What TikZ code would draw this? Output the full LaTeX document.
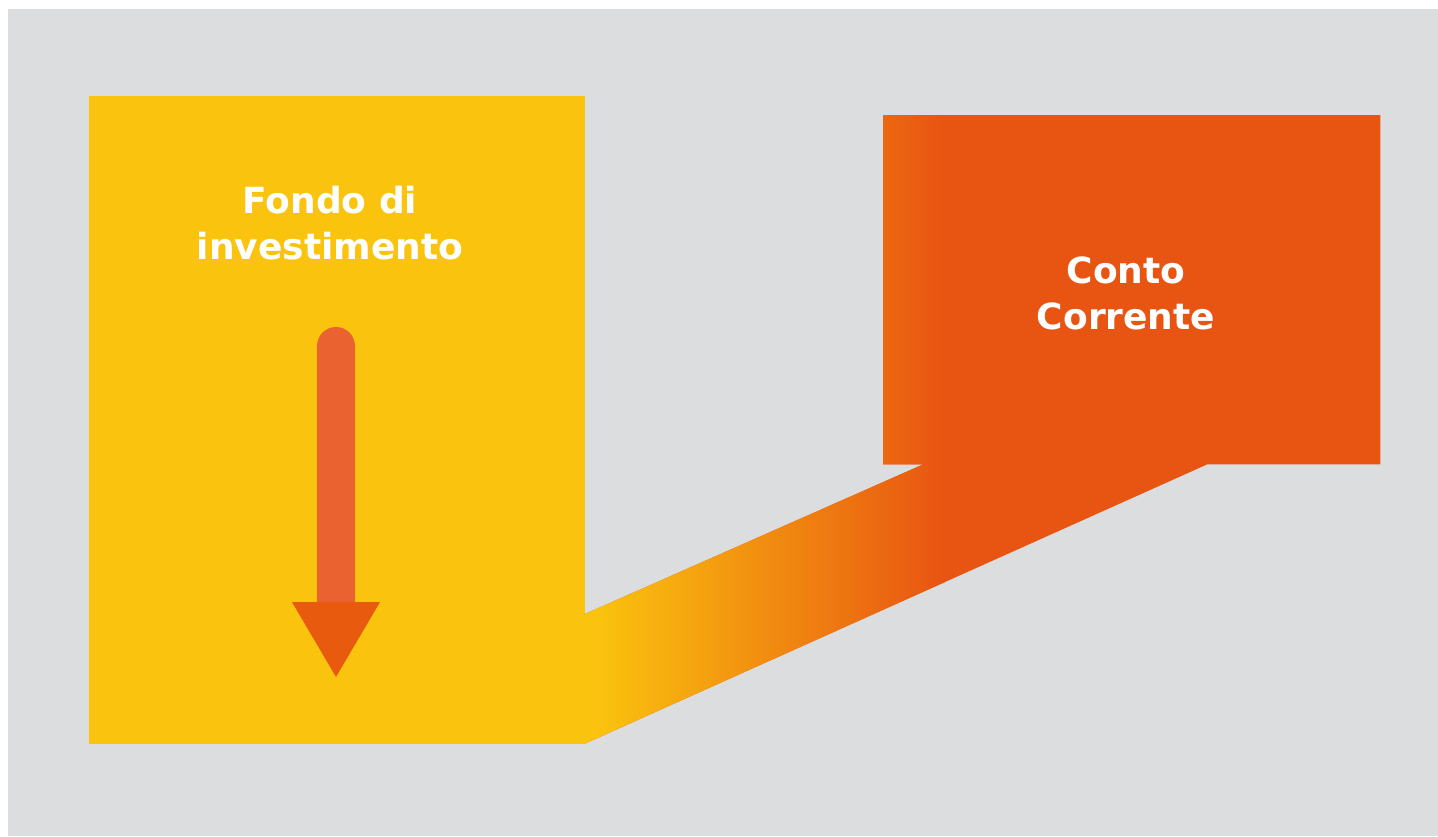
\documentclass[tikz,border=0pt]{standalone}
\usepackage{fontspec}
\setmainfont{DejaVu Sans}
\usetikzlibrary{calc}
\definecolor{bggrey}{HTML}{DCDDDF}
\definecolor{fondoyellow}{HTML}{FAC30E}
\definecolor{contoorange}{HTML}{E85412}
\definecolor{shaftorange}{HTML}{EA6230}
\definecolor{headorange}{HTML}{E85A0E}

\begin{document}
\begin{tikzpicture}[x=1pt,y=-1pt,
    box/.style={draw=none,inner sep=0pt,anchor=north west},
    boxtext/.style={text=white,font=\bfseries\fontsize{36}{46}\selectfont,align=center,inner sep=0pt}]
    \useasboundingbox (0,0) rectangle (1438,836);
    % sfondo grigio
    \fill[bggrey] (8,9) rectangle (1438,836);

    % i due conti
    \node[box,fill=fondoyellow,minimum width=496pt,minimum height=648pt] (fondo) at (89,96) {};
    \node[box,minimum width=497pt,minimum height=349pt] (conto) at (883,115) {};

    % banda che collega fondo e conto
    \coordinate (band start) at (584,744);
    \coordinate (band top) at (584,614.4);
    \coordinate (band a) at (924,464);
    \coordinate (band b) at (1208,464);
    \begin{scope}
        \clip (conto.north west) rectangle (conto.south east)
              (band start) -- (band top) -- (band a) -- (band b) -- cycle;
        \fill[contoorange] (580,100) rectangle (1390,750);
        \fill[fondoyellow] (580,100) rectangle (598,750);
        \shade[left color=fondoyellow,right color=contoorange] (597,100) rectangle (945,750);
    \end{scope}

    % freccia verso il basso
    \coordinate (arrow top) at (336,346);
    \coordinate (arrow base) at (336,602);
    \draw[shaftorange,line width=38pt,line cap=round] (arrow top) -- (arrow base);
    \fill[headorange] ($(arrow base)+(-44,0)$) -- ($(arrow base)+(44,0)$) -- (336,677) -- cycle;

    \node[boxtext] (fondo label) at (330,223) {Fondo di\\investimento};
    \node[boxtext] (conto label) at (1126,293) {Conto\\Corrente};
\end{tikzpicture}
\end{document}
